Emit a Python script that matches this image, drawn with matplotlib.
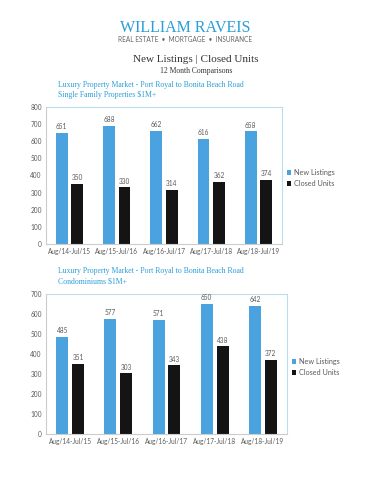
import matplotlib
matplotlib.use("Agg")
import matplotlib.pyplot as plt
import numpy as np

categories = ["Aug/14-Jul/15", "Aug/15-Jul/16", "Aug/16-Jul/17", "Aug/17-Jul/18", "Aug/18-Jul/19"]
sf_new = [651, 688, 662, 616, 658]
sf_closed = [350, 330, 314, 362, 374]
condo_new = [485, 577, 571, 650, 642]
condo_closed = [351, 303, 343, 438, 372]
series_names = ["New Listings", "Closed Units"]

W, H = 370, 480
fig = plt.figure(figsize=(W / 100, H / 100), dpi=100)
fig.patch.set_facecolor("white")

BLUE = "#4aa3df"
BLACK = "#141414"
FRAME = "#b9dcef"
TXT = "#5a5a5a"
sans = ["Lato", "DejaVu Sans"]
serif = ["Liberation Serif", "DejaVu Serif"]

def fx(px):
    return px / W

def fy(py):
    return 1 - py / H

fig.text(fx(185), fy(28), "WILLIAM RAVEIS", ha="center", va="center",
         fontsize=11.5, color="#2a9ed8", family=serif)
fig.text(fx(185), fy(39), "REAL ESTATE  •  MORTGAGE  •  INSURANCE", ha="center", va="center",
         fontsize=4.7, color="#666666", family=sans)
fig.text(fx(196), fy(59), "New Listings | Closed Units", ha="center", va="center",
         fontsize=8.0, color="#333333", family=serif)
fig.text(fx(196), fy(71), "12 Month Comparisons", ha="center", va="center",
         fontsize=5.5, color="#333333", family=serif)


def draw(box, new, closed, ymax, title1, title2, t1y, legy):
    left, top, right, bottom = box
    ax = fig.add_axes([fx(left), fy(bottom), fx(right) - fx(left), fy(top) - fy(bottom)])
    x = np.arange(len(categories))
    w = 0.25
    off = 0.165
    b1 = ax.bar(x - off, new, w, color=BLUE, label=series_names[0], zorder=2)
    b2 = ax.bar(x + off, closed, w, color=BLACK, label=series_names[1], zorder=2)
    for rect, v in zip(b1, new):
        ax.text(rect.get_x() + rect.get_width() / 2, v + ymax * 0.02, str(v),
                ha="center", va="bottom", fontsize=4.7, color=TXT, family=sans)
    for rect, v in zip(b2, closed):
        ax.text(rect.get_x() + rect.get_width() / 2, v + ymax * 0.02, str(v),
                ha="center", va="bottom", fontsize=4.7, color=TXT, family=sans)
    ax.set_xlim(-0.5, len(categories) - 0.5)
    ax.set_ylim(0, ymax)
    ax.set_yticks(np.arange(0, ymax + 1, 100))
    ax.set_xticks(x)
    ax.set_xticklabels(categories)
    ax.tick_params(axis="both", length=0, labelsize=4.7, labelcolor=TXT, pad=3)
    for lab in ax.get_xticklabels() + ax.get_yticklabels():
        lab.set_family(sans)
    for s in ax.spines.values():
        s.set_color(FRAME)
        s.set_linewidth(0.8)
    ax.spines["left"].set_color("#cccccc")
    ax.spines["bottom"].set_color("#cccccc")
    leg = ax.legend(loc="center left", frameon=False,
                    fontsize=5.2, handlelength=0.6, handleheight=0.6, handletextpad=0.4,
                    labelspacing=0.5, borderaxespad=0)
    for t in leg.get_texts():
        t.set_color(TXT)
        t.set_family(sans)
    leg.set_bbox_to_anchor((fx(right + 2), fy(legy)), transform=fig.transFigure)
    fig.text(fx(58), fy(t1y), title1, ha="left", va="center", fontsize=5.6,
             color="#2a9ed8", family=serif)
    fig.text(fx(58), fy(t1y + 10), title2, ha="left", va="center", fontsize=5.6,
             color="#2a9ed8", family=serif)

draw((46, 107, 282, 244), sf_new, sf_closed, 800,
     "Luxury Property Market - Port Royal to Bonita Beach Road",
     "Single Family Properties $1M+", 85, 178)
draw((46, 294, 287, 434), condo_new, condo_closed, 700,
     "Luxury Property Market - Port Royal to Bonita Beach Road",
     "Condominiums $1M+", 271, 367)

fig.savefig("out.png", dpi=100, facecolor="white")
